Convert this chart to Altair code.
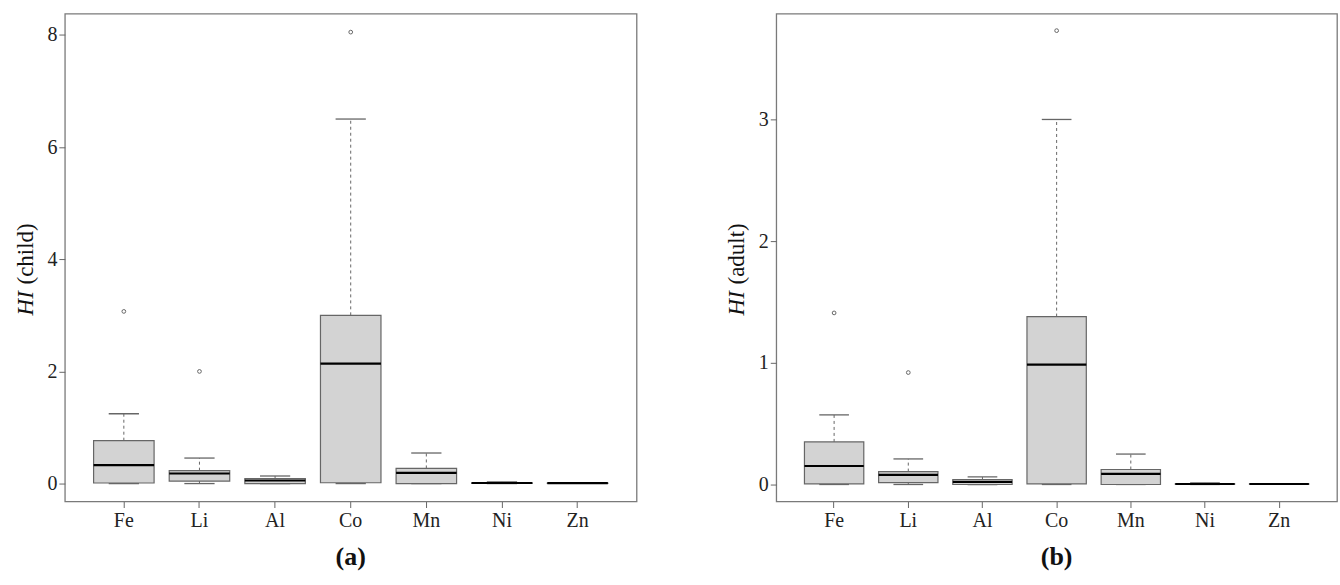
import altair as alt
import pandas as pd

cats = ["Fe", "Li", "Al", "Co", "Mn", "Ni", "Zn"]

# HI (child)
child_lo = [0.0, 0.0, 0.0, 0.0, 0.0, 0.0, 0.003]
child_q1 = [0.01, 0.045, 0.0, 0.015, 0.0, 0.004, 0.005]
child_med = [0.33, 0.18, 0.055, 2.14, 0.19, 0.01, 0.008]
child_q3 = [0.765, 0.23, 0.09, 3.0, 0.27, 0.014, 0.01]
child_hi = [1.245, 0.455, 0.135, 6.5, 0.545, 0.03, 0.012]
child_out_cat = ["Fe", "Li", "Co"]
child_out_val = [3.07, 2.0, 8.05]

# HI (adult)
adult_lo = [0.0, 0.0, 0.0, 0.0, 0.0, 0.0, 0.002]
adult_q1 = [0.005, 0.016, 0.0, 0.005, 0.0, 0.002, 0.003]
adult_med = [0.152, 0.079, 0.021, 0.985, 0.087, 0.004, 0.004]
adult_q3 = [0.35, 0.106, 0.041, 1.38, 0.123, 0.006, 0.005]
adult_hi = [0.572, 0.21, 0.062, 3.0, 0.25, 0.013, 0.006]
adult_out_cat = ["Fe", "Li", "Co"]
adult_out_val = [1.41, 0.92, 3.73]

FONT = "Liberation Serif"
GRAY = "#666666"


def panel(lo, q1, med, q3, hi, out_cat, out_val, ydom, yticks, width, height, word, tag):
    df = pd.DataFrame({"cat": cats, "lo": lo, "q1": q1, "med": med, "q3": q3, "hi": hi})
    dfo = pd.DataFrame({"cat": out_cat, "v": out_val})
    step = width / (7 + 2 * 0.28)
    xs = alt.Scale(domain=cats, paddingInner=0, paddingOuter=0.28)
    ys = alt.Scale(domain=ydom, nice=False, zero=False)
    xenc = alt.X("cat:N", scale=xs, sort=cats, title=None,
                 axis=alt.Axis(labelAngle=0, labelFontSize=20, labelFont=FONT, labelColor="#222",
                               tickSize=6, tickColor=GRAY, labelPadding=3, domain=False))
    yaxis = alt.Axis(values=yticks, format="d", labelFontSize=20, labelFont=FONT,
                     labelColor="#222", tickSize=6, tickColor=GRAY, labelPadding=2,
                     domain=False, grid=False, title=None)
    base = alt.Chart(df)
    whisk_up = base.mark_rule(color=GRAY, strokeDash=[3, 3], strokeWidth=1).encode(
        x=xenc, y=alt.Y("q3:Q", scale=ys, axis=yaxis), y2="hi:Q")
    whisk_dn = base.mark_rule(color=GRAY, strokeDash=[3, 3], strokeWidth=1).encode(
        x=xenc, y=alt.Y("lo:Q", scale=ys), y2="q1:Q")
    cap_up = base.mark_tick(color=GRAY, size=0.4 * step, thickness=1.3, opacity=1).encode(
        x=xenc, y=alt.Y("hi:Q", scale=ys))
    cap_dn = base.mark_tick(color=GRAY, size=0.4 * step, thickness=1.3, opacity=1).encode(
        x=xenc, y=alt.Y("lo:Q", scale=ys))
    box = base.mark_bar(width=alt.RelativeBandSize(0.8), fill="#d3d3d3", stroke=GRAY,
                        strokeWidth=1.2, opacity=1).encode(
        x=xenc, y=alt.Y("q1:Q", scale=ys), y2="q3:Q")
    medm = base.mark_tick(color="#000", size=0.8 * step, thickness=2.2, opacity=1).encode(
        x=xenc, y=alt.Y("med:Q", scale=ys))
    outs = alt.Chart(dfo).mark_point(shape="circle", size=14, filled=False, color=GRAY,
                                     strokeWidth=1, opacity=1).encode(
        x=alt.X("cat:N", scale=xs, sort=cats), y=alt.Y("v:Q", scale=ys))
    tdf = pd.DataFrame({"a": [1]})
    t1 = alt.Chart(tdf).mark_text(text="HI", angle=270, align="left", baseline="middle",
                                  font=FONT, fontSize=23, fontStyle="italic", color="#111").encode(
        x=alt.value(-39), y=alt.value(height / 2 + 58))
    t2 = alt.Chart(tdf).mark_text(text=word, angle=270, align="left", baseline="middle",
                                  font=FONT, fontSize=23, color="#111").encode(
        x=alt.value(-39), y=alt.value(height / 2 + 27))
    return alt.layer(whisk_up, whisk_dn, cap_up, cap_dn, box, medm, outs, t1, t2).properties(
        width=width, height=height,
        title=alt.Title(tag, orient="bottom", fontSize=26, font=FONT, fontWeight="bold",
                        color="#111", offset=14))


left = panel(child_lo, child_q1, child_med, child_q3, child_hi, child_out_cat, child_out_val,
             [-0.32, 8.38], [0, 2, 4, 6, 8], 573, 489, "(child)", "(a)")
right = panel(adult_lo, adult_q1, adult_med, adult_q3, adult_hi, adult_out_cat, adult_out_val,
              [-0.14, 3.87], [0, 1, 2, 3], 562, 489, "(adult)", "(b)")

chart = alt.hconcat(left, right, spacing=88).properties(
    padding={"left": 14, "top": 12, "right": 2, "bottom": 0},
    background="white"
).configure_view(stroke="#7a7a7a", strokeWidth=1.3)

chart.save("out.html", embed_options={"renderer": "svg", "actions": False})
